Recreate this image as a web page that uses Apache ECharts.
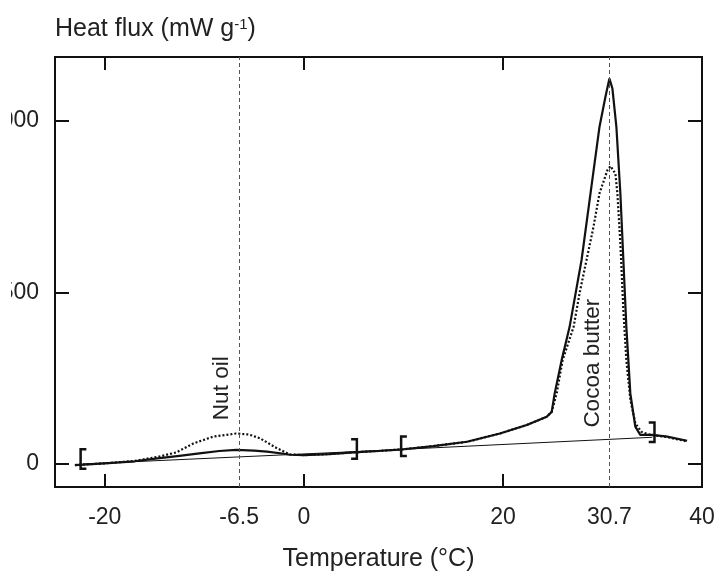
<!DOCTYPE html>
<html>
<head>
<meta charset="utf-8">
<script src="https://cdn.jsdelivr.net/npm/echarts@6/dist/echarts.min.js"></script>
<style>
  html, body { margin: 0; background: #fff; }
  #chart { width: 719px; height: 576px; }
</style>
</head>
<body>
<div id="chart"></div>
<script>
// DSC melting curves, heat flux vs temperature
const solidT = [-23, -20, -17, -14.5, -12.5, -10.5, -8.5, -6.8, -5, -3.7, -2, -1.4, 0, 2.5, 5, 7.5, 10, 13, 16.4, 19.7, 22.4, 24.4, 24.9,
  25.2, 25.9, 26.7, 27.9, 28.8, 29.7, 30.3, 30.7, 31.0, 31.4, 31.8, 32.1, 32.4, 32.8, 33.3, 33.8, 35, 36.5, 38.5]
const solidV = [-3, 2, 8, 17, 24, 31, 38, 41, 39, 36, 30, 27, 26, 29, 34, 38, 43, 52, 65, 89, 114, 138, 152,
  206, 303, 400, 595, 789, 983, 1071, 1124, 1095, 983, 789, 595, 400, 206, 109, 85, 85, 80, 68]

const dottedT = [-23, -20, -17, -14.5, -12.8, -11.1, -9.1, -6.8, -5.5, -4.4, -2.7, -1.4, 0, 2.5, 5, 7.5, 10, 13, 16.4, 19.7, 22.4, 24.4, 24.9,
  25.4, 26.0, 27.1, 27.7, 28.4, 29.1, 29.7, 30.5, 30.8, 31.3, 31.5, 31.8, 32.1, 32.4, 32.8, 33.3, 33.9, 34.8, 35, 36.5, 37.5, 38.5]
const dottedV = [-3, 2, 9, 22, 34, 60, 80, 89, 86, 75, 46, 28, 26, 29, 34, 38, 43, 52, 65, 89, 114, 138, 152,
  206, 303, 400, 498, 595, 692, 789, 857, 869, 847, 789, 643, 449, 303, 187, 119, 94, 85, 85, 79, 72, 66]

// thin integration baseline
const baseT = [-22.2, 5, 35]
const baseV = [0, 36, 78]

// integration limits
const bracketT = [-22.2, 5.1, 10, 35]
const bracketV = [15, 44, 52, 93]
const bracketSide = ['[', ']', '[', ']']

// reference temperatures and labels
const peakT = [-6.5, 30.7]
const noteText = ['Nut oil', 'Cocoa butter']
const noteT = [-8.2, 29.0]
const noteV = [221, 294]

const xTicks = [-20, 0, 20]
const xLabels = [-20, -6.5, 0, 20, 30.7, 40]
const yTicks = [0, 500, 1000]

const FONT = '"Liberation Sans", Arial, sans-serif'
const INK = '#111'
const TXT = '#222'

const LEFT_BR = 'path://M0,0 H7 V2.5 H2.5 V19.5 H7 V22 H0 Z'
const RIGHT_BR = 'path://M0,0 H7 V22 H0 V19.5 H4.5 V2.5 H0 Z'

const pairs = (xs, ys) => xs.map((x, i) => [x, ys[i]])

const chart = echarts.init(document.getElementById('chart'), null, { renderer: 'canvas' })

const xCommon = {
  type: 'value', min: -25, max: 40,
  axisLine: { show: false, onZero: false },
  splitLine: { show: false },
}
const yCommon = {
  type: 'value', min: -67, max: 1187,
  axisLine: { show: false, onZero: false },
  splitLine: { show: false },
  axisTick: { inside: true, length: 14, customValues: yTicks, lineStyle: { color: INK, width: 2 } },
}

chart.setOption({
  animation: false,
  title: {
    text: 'Heat flux (mW g{sup|-1})',
    left: 50, top: 12,
    textStyle: {
      fontSize: 25, fontWeight: 'normal', color: TXT, fontFamily: FONT,
      rich: { sup: { fontSize: 15, verticalAlign: 'top', color: TXT, fontFamily: FONT } },
    },
  },
  grid: {
    left: 55, right: 17, top: 57, bottom: 89,
    containLabel: false, outerBoundsMode: 'none',
    show: true, borderColor: INK, borderWidth: 2,
  },
  xAxis: [
    {
      ...xCommon,
      position: 'bottom',
      axisTick: { inside: true, length: 13, customValues: xTicks, lineStyle: { color: INK, width: 2 } },
      axisLabel: { customValues: xLabels, margin: 19, fontSize: 23, color: TXT, fontFamily: FONT },
      name: 'Temperature (°C)',
      nameLocation: 'middle',
      nameGap: 60,
      nameTextStyle: { fontSize: 25, color: TXT, fontFamily: FONT },
    },
    {
      ...xCommon,
      position: 'top',
      axisTick: { inside: true, length: 13, customValues: xTicks, lineStyle: { color: INK, width: 2 } },
      axisLabel: { show: false },
    },
  ],
  yAxis: [
    {
      ...yCommon,
      position: 'left',
      axisLabel: {
        customValues: yTicks, margin: 16, fontSize: 23, color: TXT, fontFamily: FONT,
        formatter: (v) => String(v),
      },
    },
    {
      ...yCommon,
      position: 'right',
      axisLabel: { show: false },
    },
  ],
  graphic: [
    // the source figure is cut off on the left, hiding the leading digits
    { type: 'rect', left: 0, top: 95, shape: { width: 11, height: 220 }, style: { fill: '#fff' }, z: 100 },
  ],
  series: [
    {
      type: 'line',
      data: pairs(baseT, baseV),
      symbol: 'none',
      lineStyle: { color: INK, width: 1 },
      markLine: {
        silent: true,
        symbol: 'none',
        label: { show: false },
        lineStyle: { color: '#555', width: 1, type: [4, 3] },
        data: peakT.map((t) => ({ xAxis: t })),
      },
      z: 2,
    },
    {
      type: 'line',
      data: pairs(dottedT, dottedV),
      symbol: 'none',
      lineStyle: { color: INK, width: 2.2, type: [2, 2] },
      z: 3,
    },
    {
      type: 'line',
      data: pairs(solidT, solidV),
      symbol: 'none',
      lineStyle: { color: INK, width: 2.2 },
      z: 4,
    },
    {
      type: 'scatter',
      data: bracketT.map((t, i) => ({
        value: [t, bracketV[i]],
        symbol: bracketSide[i] === '[' ? LEFT_BR : RIGHT_BR,
      })),
      symbolSize: [7, 22],
      itemStyle: { color: INK, opacity: 1 },
      z: 5,
    },
    {
      type: 'scatter',
      data: noteT.map((t, i) => ({ value: [t, noteV[i]], name: noteText[i] })),
      symbolSize: 0,
      itemStyle: { color: INK },
      label: {
        show: true,
        position: 'inside',
        rotate: 90,
        formatter: '{b}',
        fontSize: 22.5,
        color: TXT,
        opacity: 1,
        fontFamily: FONT,
      },
      z: 6,
    },
  ],
})
</script>
</body>
</html>
